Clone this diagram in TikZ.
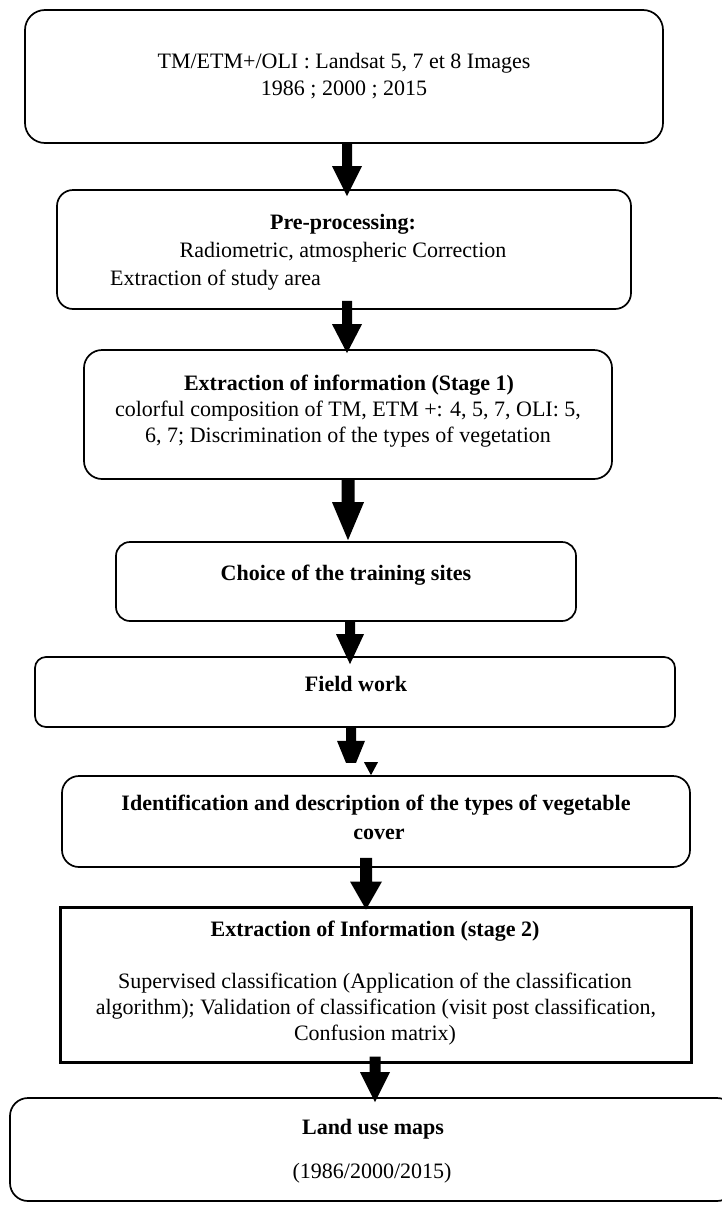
\documentclass[tikz,border=0pt]{standalone}
\usepackage{fontspec}
\setmainfont{Liberation Serif}
\usetikzlibrary{calc}
% block arrow: #1 start, #2 tip, #3 shaft width, #4 head width, #5 head length
\newcommand\blockarrow[5]{%
  \fill let \p1=(#1), \p2=(#2) in
    (\x1-#3/2,\y1) -- (\x1+#3/2,\y1) -- (\x1+#3/2,\y2+#5) -- (\x1+#4/2,\y2+#5)
    -- (\x1,\y2) -- (\x1-#4/2,\y2+#5) -- (\x1-#3/2,\y2+#5) -- cycle;}
\begin{document}
\begin{tikzpicture}[x=1pt,y=-1pt,
  box/.style={draw=black, line width=1.7pt, fill=white, inner sep=0pt},
  sbox/.style={draw=black, line width=3pt, fill=white, inner sep=0pt},
  txt/.style={anchor=base, inner sep=0pt, font=\fontsize{22}{27}\selectfont},
  btxt/.style={txt, font=\fontsize{22}{27}\selectfont\bfseries}]
\useasboundingbox (0,0) rectangle (722,1205);
\fill[white] (0,0) rectangle (722,1205);

% boxes
\node[box, rounded corners=20pt, minimum width=638pt, minimum height=133pt] (b1) at (344,76.5) {};
\node[box, rounded corners=16pt, minimum width=574pt, minimum height=119pt] (b2) at (344,249.5) {};
\node[box, rounded corners=18pt, minimum width=528pt, minimum height=129pt] (b3) at (348,414.5) {};
\node[box, rounded corners=14pt, minimum width=460pt, minimum height=79pt] (b4) at (346,581.5) {};
\node[box, rounded corners=11pt, minimum width=640pt, minimum height=70pt] (b5) at (355,692) {};
\node[box, rounded corners=17pt, minimum width=628pt, minimum height=91pt] (b6) at (376,821.5) {};
\node[sbox, minimum width=631pt, minimum height=155pt] (b7) at (375.5,984.5) {};
\node[box, rounded corners=18pt, minimum width=725pt, minimum height=103pt] (b8) at (372.5,1149.5) {};

% texts
\node[txt] (t1a) at (344,68) {TM/ETM+/OLI : Landsat 5, 7 et 8 Images};
\node[txt] (t1b) at (344,95) {1986 ; 2000 ; 2015};
\node[btxt] (t2a) at (343,229) {Pre-processing:};
\node[txt] (t2b) at (343,257) {Radiometric, atmospheric Correction};
\node[txt, anchor=base west] (t2c) at (110,285) {Extraction of study area};
\node[btxt] (t3a) at (349,390) {Extraction of information (Stage 1)};
\node[txt] (t3b) at (348,416) {colorful composition of TM, ETM +: 4, 5, 7, OLI: 5,};
\node[txt] (t3c) at (348,442) {6, 7; Discrimination of the types of vegetation};
\node[btxt] (t4) at (346,580) {Choice of the training sites};
\node[btxt] (t5) at (356,691) {Field work};
\node[btxt] (t6a) at (376,810) {Identification and description of the types of vegetable};
\node[btxt] (t6b) at (379,839) {cover};
\node[btxt] (t7a) at (375,936) {Extraction of Information (stage 2)};
\node[txt] (t7b) at (375,988) {Supervised classification (Application of the classification};
\node[txt] (t7c) at (376,1014) {algorithm); Validation of classification (visit post classification,};
\node[txt] (t7d) at (375,1040) {Confusion matrix)};
\node[btxt] (t8a) at (373,1134) {Land use maps};
\node[txt] (t8b) at (372,1178) {(1986/2000/2015)};

% arrow columns
\coordinate (ax1) at (347,0);
\coordinate (ax2) at (347,0);
\coordinate (ax3) at (348,0);
\coordinate (ax4) at (350,0);
\coordinate (ax5) at (351,0);
\coordinate (ax5b) at (371,0);
\coordinate (ax6) at (366,0);
\coordinate (ax7) at (375,0);

% arrows
\blockarrow{b1.south -| ax1}{$(b2.north -| ax1)+(0,7)$}{10pt}{30pt}{30pt}
\blockarrow{$(b2.south -| ax2)+(0,-9)$}{$(b3.north -| ax2)+(0,4)$}{10pt}{30pt}{29pt}
\blockarrow{b3.south -| ax3}{$(b4.north -| ax3)+(0,-1)$}{13pt}{32pt}{38pt}
\blockarrow{b4.south -| ax4}{$(b5.north -| ax4)+(0,8)$}{10pt}{28pt}{30pt}
% truncated arrow from Field work
\fill let \p1=(b5.south -| ax5) in
  (\x1-5pt,\y1) -- (\x1+5pt,\y1) -- (\x1+5pt,\y1-13pt) -- (\x1+14pt,\y1-13pt)
  -- (\x1+5pt,\y1-35pt) -- (\x1-5pt,\y1-35pt) -- (\x1-14pt,\y1-13pt) -- (\x1-5pt,\y1-13pt) -- cycle;
\fill let \p1=(b6.north -| ax5b) in
  (\x1-7pt,\y1+13pt) -- (\x1+7pt,\y1+13pt) -- (\x1,\y1) -- cycle;
\blockarrow{$(b6.south -| ax6)+(0,-10)$}{$(b7.north -| ax6)+(0,4)$}{12pt}{32pt}{28pt}
\blockarrow{$(b7.south -| ax7)+(0,-7)$}{$(b8.north -| ax7)+(0,5)$}{11pt}{30pt}{30pt}
\end{tikzpicture}
\end{document}
